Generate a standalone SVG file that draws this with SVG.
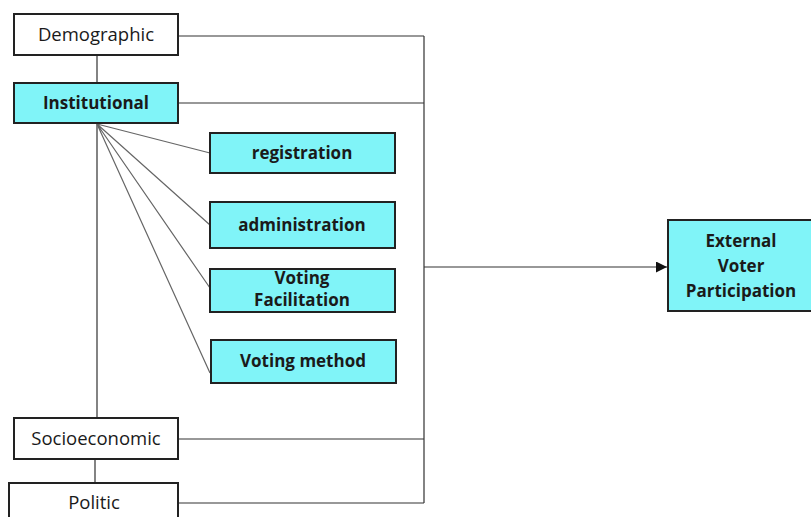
<svg xmlns="http://www.w3.org/2000/svg" width="811" height="517" viewBox="0 0 811 517">
<defs>
<style>
.w{fill:#ffffff;stroke:#222;stroke-width:2}
.c{fill:#80f4f8;stroke:#222;stroke-width:2}
.t{font-family:"Open Sans","Liberation Sans",sans-serif;font-size:17px;fill:#1a1a1a;text-anchor:middle}
.r{font-size:18.5px}
.b{font-weight:bold}
.l{fill:none;stroke:#333;stroke-width:1.2}
.f{fill:none;stroke:#666;stroke-width:1.2}
</style>
<marker id="ah" viewBox="0 0 10 10" refX="10" refY="5" markerWidth="11" markerHeight="11" markerUnits="userSpaceOnUse" orient="auto"><path d="M0,0 L10,5 L0,10 z" fill="#111"/></marker>
</defs>
<g id="connectors">
<path class="l" d="M178,36 H424 M178,103 H424 M178,439 H424 M178,503 H424 M424,36 V503"/>
<path class="l" d="M97,55 V83 M97,123 V418 M95,459 V483"/>
<path class="f" d="M97,124 L210,153 M97,124 L210,225 M97,124 L210,288 M97,124 L210,373"/>
<path class="l" d="M424,267 H667" marker-end="url(#ah)" stroke-width="1.5"/>
</g>
<g id="demographic"><rect class="w" x="14" y="14" width="164" height="41"/><text class="t r" x="96" y="41">Demographic</text></g>
<g id="institutional"><rect class="c" x="14" y="83" width="164" height="40"/><text class="t b" x="96" y="109">Institutional</text></g>
<g id="registration"><rect class="c" x="210" y="133" width="185" height="40"/><text class="t b" x="302" y="159">registration</text></g>
<g id="administration"><rect class="c" x="210" y="202" width="185" height="46"/><text class="t b" x="302" y="231">administration</text></g>
<g id="voting-facilitation"><rect class="c" x="210" y="269" width="185" height="43"/><text class="t b" x="302" y="284">Voting</text><text class="t b" x="302" y="306">Facilitation</text></g>
<g id="voting-method"><rect class="c" x="211" y="340" width="185" height="43"/><text class="t b" x="303" y="367">Voting method</text></g>
<g id="socioeconomic"><rect class="w" x="14" y="418" width="164" height="41"/><text class="t r" x="96" y="445">Socioeconomic</text></g>
<g id="politic"><rect class="w" x="9" y="483" width="169" height="40"/><text class="t r" x="94" y="509">Politic</text></g>
<g id="external"><rect class="c" x="668" y="220" width="150" height="91"/><text class="t b" x="741" y="247">External</text><text class="t b" x="741" y="272">Voter</text><text class="t b" x="741" y="297">Participation</text></g>
</svg>
